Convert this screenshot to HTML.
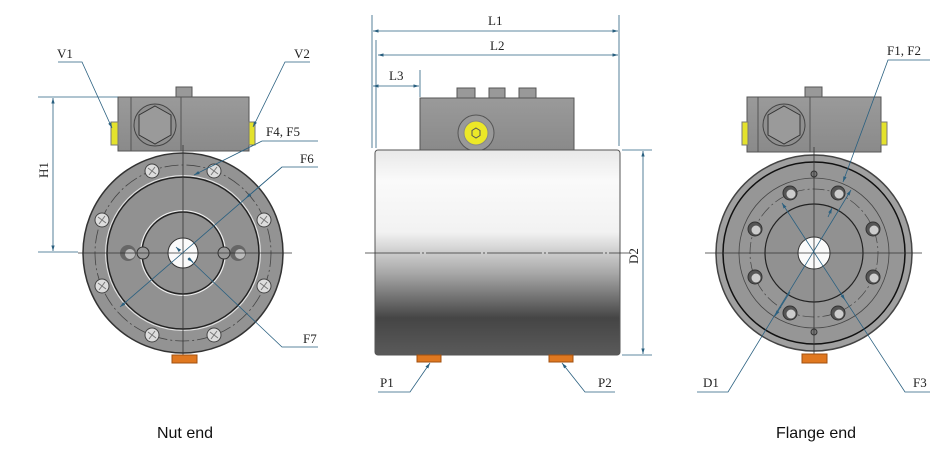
<!DOCTYPE html>
<html><head><meta charset="utf-8"><style>
html,body{margin:0;padding:0;background:#fff;width:950px;height:462px;overflow:hidden}
text{font-family:"Liberation Serif",serif;font-size:13px;fill:#222}
</style></head><body>
<svg width="950" height="462" viewBox="0 0 950 462" xmlns="http://www.w3.org/2000/svg">
<defs>
<linearGradient id="cyl" x1="0" y1="0" x2="0" y2="1">
<stop offset="0" stop-color="#e8e8e8"/><stop offset="0.15" stop-color="#fafafa"/><stop offset="0.4" stop-color="#f2f2f2"/>
<stop offset="0.6" stop-color="#a8a8a8"/><stop offset="0.82" stop-color="#454545"/><stop offset="1" stop-color="#5a5a5a"/></linearGradient>
<linearGradient id="box" x1="0" y1="0" x2="0" y2="1"><stop offset="0" stop-color="#9a9a9a"/><stop offset="1" stop-color="#8a8a8a"/></linearGradient>
<marker id="ar" viewBox="0 0 10 10" refX="10" refY="5" markerWidth="7" markerHeight="7" orient="auto-start-reverse"><path d="M0,2 L10,5 L0,8z" fill="#2a6080"/></marker>
<g id="bolt"><circle r="7" fill="#ddd" stroke="#444" stroke-width="1"/><path d="M-4,-3 L4,3 M-3,4 L3,-4" stroke="#777" stroke-width="1"/></g>
<g id="hbolt"><circle r="7" fill="#555" stroke="#333"/><circle r="4.5" cx="1" cy="1" fill="#ccc"/></g>
</defs>

<g>
<rect x="118" y="97" width="131" height="54" fill="url(#box)" stroke="#555"/>
<rect x="176" y="87" width="16" height="10" fill="#999" stroke="#555"/>
<line x1="131" y1="97" x2="131" y2="151" stroke="#555"/>
<line x1="181" y1="97" x2="181" y2="151" stroke="#555"/>
<circle cx="155" cy="125" r="21" fill="#8f8f8f" stroke="#444"/>
<polygon points="155,106 171,115 171,135 155,144 139,135 139,115" fill="#9a9a9a" stroke="#333"/>
<rect x="111" y="122" width="7" height="23" fill="#e4e22c" stroke="#777"/>
<rect x="249" y="122" width="6" height="23" fill="#e4e22c" stroke="#777"/>
<circle cx="183" cy="253" r="100" fill="#939393" stroke="#333" stroke-width="1.5"/>
<circle cx="183" cy="253" r="88" fill="none" stroke="#444" stroke-width="0.8" stroke-dasharray="14 3 2 3"/>
<circle cx="183" cy="253" r="78" fill="#e0e0e0" stroke="none"/>
<circle cx="183" cy="253" r="76" fill="#919191" stroke="#222" stroke-width="1.5"/>
<circle cx="183" cy="253" r="43" fill="#eee"/>
<circle cx="183" cy="253" r="41" fill="#919191" stroke="#222" stroke-width="1.5"/>
<circle cx="183" cy="253" r="15" fill="#fafafa" stroke="#333"/>
<circle cx="128" cy="253" r="8" fill="#666"/><circle cx="130" cy="254" r="5" fill="#bbb"/>
<circle cx="238" cy="253" r="8" fill="#666"/><circle cx="240" cy="254" r="5" fill="#bbb"/>
<circle cx="143" cy="253" r="6" fill="#999" stroke="#333"/><circle cx="224" cy="253" r="6" fill="#999" stroke="#333"/>
<use href="#bolt" x="152" y="171"/><use href="#bolt" x="214" y="171"/>
<use href="#bolt" x="102" y="220"/><use href="#bolt" x="264" y="220"/>
<use href="#bolt" x="102" y="286"/><use href="#bolt" x="264" y="286"/>
<use href="#bolt" x="152" y="335"/><use href="#bolt" x="214" y="335"/>
<line x1="183" y1="145" x2="183" y2="358" stroke="#333" stroke-width="0.8"/>
<line x1="78" y1="253" x2="292" y2="253" stroke="#333" stroke-width="0.8"/>
<rect x="172" y="355" width="25" height="8" fill="#e07820" stroke="#a05010"/>
<g stroke="#2a6080" stroke-width="0.8" fill="none">
<line x1="38" y1="97" x2="118" y2="97"/><line x1="38" y1="252" x2="78" y2="252"/>
<line x1="53" y1="98" x2="53" y2="251" marker-start="url(#ar)" marker-end="url(#ar)"/>
<polyline points="58,62 82,62 112,128" marker-end="url(#ar)"/>
<polyline points="310,62 285,62 253,127" marker-end="url(#ar)"/>
<polyline points="318,141 262,141 194,175" marker-end="url(#ar)"/>
<polyline points="318,167 282,167 120,307" marker-end="url(#ar)"/>
<line x1="282" y1="167" x2="246" y2="198" marker-end="url(#ar)"/>
<polyline points="318,347 282,347 188,258" />
<line x1="188" y1="258" x2="193" y2="262" marker-end="url(#ar)"/>
<line x1="180" y1="251" x2="176" y2="247" marker-end="url(#ar)"/>
</g>
<text x="57" y="58">V1</text><text x="294" y="58">V2</text>
<text x="266" y="136">F4, F5</text><text x="300" y="163">F6</text><text x="303" y="343">F7</text>
<text transform="translate(48,178) rotate(-90)">H1</text>
</g>

<g>
<rect x="420" y="98" width="154" height="52" fill="url(#box)" stroke="#555"/>
<rect x="457" y="88" width="18" height="10" fill="#999" stroke="#555"/>
<rect x="489" y="88" width="16" height="10" fill="#999" stroke="#555"/>
<rect x="519" y="88" width="17" height="10" fill="#999" stroke="#555"/>
<circle cx="476" cy="133" r="18" fill="#999" stroke="#555"/>
<circle cx="476" cy="133" r="12" fill="#ece828" stroke="#888"/>
<polygon points="476,128 480,130.5 480,135.5 476,138 472,135.5 472,130.5" fill="none" stroke="#555"/>
<rect x="375" y="150" width="245" height="205" rx="3" fill="url(#cyl)" stroke="#555"/>
<line x1="365" y1="253" x2="630" y2="253" stroke="#333" stroke-width="0.7" stroke-dasharray="55 2 2 2"/>
<rect x="417" y="355" width="24" height="7" fill="#e07820" stroke="#a05010"/>
<rect x="549" y="355" width="24" height="7" fill="#e07820" stroke="#a05010"/>
<g stroke="#2a6080" stroke-width="0.8" fill="none">
<line x1="372" y1="15" x2="372" y2="148"/><line x1="619" y1="15" x2="619" y2="146"/>
<line x1="376" y1="40" x2="376" y2="148"/><line x1="420" y1="70" x2="420" y2="97"/>
<line x1="373" y1="31" x2="618" y2="31" marker-start="url(#ar)" marker-end="url(#ar)"/>
<line x1="378" y1="55" x2="618" y2="55" marker-start="url(#ar)" marker-end="url(#ar)"/>
<line x1="373" y1="86" x2="419" y2="86" marker-start="url(#ar)" marker-end="url(#ar)"/>
<line x1="622" y1="150" x2="652" y2="150"/><line x1="622" y1="355" x2="652" y2="355"/>
<line x1="643" y1="151" x2="643" y2="354" marker-start="url(#ar)" marker-end="url(#ar)"/>
<polyline points="378,392 410,392 430,363" marker-end="url(#ar)"/>
<polyline points="615,392 585,392 562,363" marker-end="url(#ar)"/>
</g>
<text x="488" y="25">L1</text><text x="490" y="50">L2</text><text x="389" y="80">L3</text>
<text transform="translate(638,264) rotate(-90)">D2</text>
<text x="380" y="387">P1</text><text x="598" y="387">P2</text>
</g>

<g>
<rect x="747" y="97" width="134" height="55" fill="url(#box)" stroke="#555"/>
<rect x="805" y="87" width="17" height="10" fill="#999" stroke="#555"/>
<line x1="758" y1="97" x2="758" y2="152" stroke="#555"/>
<line x1="810" y1="97" x2="810" y2="152" stroke="#555"/>
<circle cx="784" cy="125" r="21" fill="#8f8f8f" stroke="#444"/>
<polygon points="784,106 800,115 800,135 784,144 768,135 768,115" fill="#9a9a9a" stroke="#333"/>
<rect x="742" y="122" width="6" height="23" fill="#e4e22c" stroke="#777"/>
<rect x="881" y="122" width="6" height="23" fill="#e4e22c" stroke="#777"/>
<circle cx="814" cy="253" r="98" fill="#a0a0a0" stroke="#444" stroke-width="1.5"/>
<circle cx="814" cy="253" r="91" fill="#969696" stroke="#111" stroke-width="1.5"/>
<circle cx="814" cy="253" r="75" fill="none" stroke="#444" stroke-width="0.8"/>
<circle cx="814" cy="253" r="64" fill="none" stroke="#444" stroke-width="0.7" stroke-dasharray="12 3 2 3"/>
<circle cx="814" cy="253" r="49" fill="#919191" stroke="#222" stroke-width="1.2"/>
<circle cx="814" cy="253" r="16" fill="#fafafa" stroke="#333"/>
<use href="#hbolt" x="790" y="193"/><use href="#hbolt" x="838" y="193"/>
<use href="#hbolt" x="755" y="229"/><use href="#hbolt" x="873" y="229"/>
<use href="#hbolt" x="755" y="277"/><use href="#hbolt" x="873" y="277"/>
<use href="#hbolt" x="790" y="313"/><use href="#hbolt" x="838" y="313"/>
<circle cx="814" cy="174" r="3" fill="#777" stroke="#333"/><circle cx="814" cy="332" r="3" fill="#777" stroke="#333"/>
<line x1="814" y1="147" x2="814" y2="360" stroke="#333" stroke-width="0.8"/>
<line x1="705" y1="253" x2="922" y2="253" stroke="#333" stroke-width="0.8"/>
<rect x="802" y="354" width="25" height="9" fill="#e07820" stroke="#a05010"/>
<g stroke="#2a6080" stroke-width="0.8" fill="none">
<polyline points="930,60 888,60 843,182" marker-end="url(#ar)"/>
<line x1="828" y1="217" x2="832" y2="208" marker-end="url(#ar)"/>
<polyline points="697,392 728,392 851,190" marker-end="url(#ar)"/>
<line x1="790" y1="292" x2="775" y2="316" marker-end="url(#ar)"/>
<polyline points="930,392 905,392 782,203" marker-end="url(#ar)"/>
<line x1="840" y1="292" x2="845" y2="300" marker-end="url(#ar)"/>
</g>
<text x="887" y="55">F1, F2</text><text x="703" y="387">D1</text><text x="913" y="387">F3</text>
</g>

<text x="185" y="438" text-anchor="middle" style="font-family:'Liberation Sans',sans-serif;font-size:16px;fill:#111">Nut end</text>
<text x="816" y="438" text-anchor="middle" style="font-family:'Liberation Sans',sans-serif;font-size:16px;fill:#111">Flange end</text>
</svg>
</body></html>
